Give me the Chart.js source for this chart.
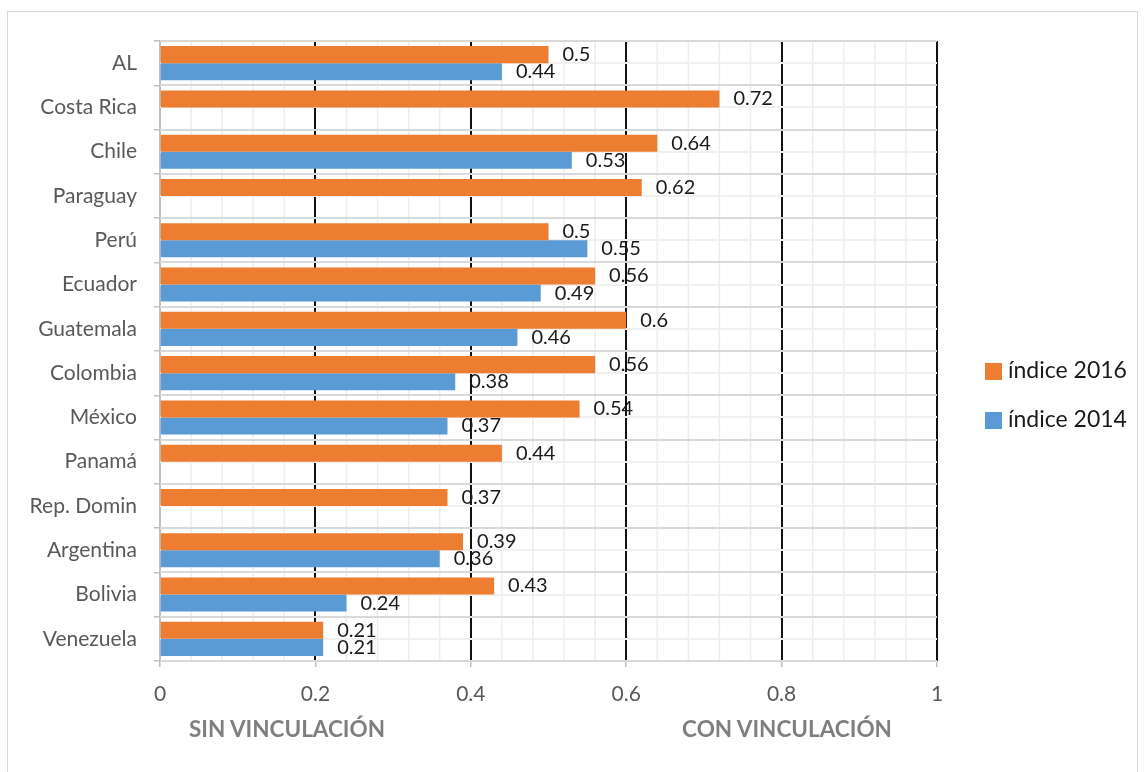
<!DOCTYPE html>
<html>
<head>
<meta charset="utf-8">
<script src="https://cdn.jsdelivr.net/npm/chart.js@4"></script>
<style>
  html, body { margin: 0; padding: 0; background: #fff; overflow: hidden; }
  #wrap { position: relative; width: 1146px; height: 772px; }
  #frame { position: absolute; left: 7px; top: 11px; width: 1131px; height: 800px; border: 1px solid #d9d9d9; box-sizing: border-box; }
  #chart { position: absolute; left: 0; top: 0; }
  .note { position: absolute; top: 715px; font: bold 22.5px Lato, sans-serif; color: #7f7f7f; transform: translateX(-50%); white-space: nowrap; }
</style>
</head>
<body>
<div id="wrap">
  <div id="frame"></div>
  <canvas id="chart" width="1146" height="772"></canvas>
  <div class="note" style="left:287px">SIN VINCULACIÓN</div>
  <div class="note" style="left:787px">CON VINCULACIÓN</div>
</div>
<script>
// Data
const countries = ["AL", "Costa Rica", "Chile", "Paraguay", "Perú", "Ecuador", "Guatemala",
  "Colombia", "México", "Panamá", "Rep. Domin", "Argentina", "Bolivia", "Venezuela"];
const index2016 = [0.5, 0.72, 0.64, 0.62, 0.5, 0.56, 0.6, 0.56, 0.54, 0.44, 0.37, 0.39, 0.43, 0.21];
const index2014 = [0.44, null, 0.53, null, 0.55, 0.49, 0.46, 0.38, 0.37, null, null, 0.36, 0.24, 0.21];
const seriesNames = ["índice 2016", "índice 2014"];
const xTicks = ["0", "0.2", "0.4", "0.6", "0.8", "1"];

const FONT = 'Lato, sans-serif';

// grid drawn by hand: light minor lines, black major lines, horizontals on top
const gridPlugin = {
  id: "excelGrid",
  beforeDatasetsDraw(chart) {
    const ctx = chart.ctx, x = chart.scales.x, y = chart.scales.y, a = chart.chartArea;
    ctx.save();
    ctx.lineWidth = 1.5;
    ctx.strokeStyle = "#ededed";
    for (let i = 1; i <= 25; i++) {
      if (i % 5 == 0) continue;
      const px = x.getPixelForValue(i * 0.04);
      ctx.beginPath(); ctx.moveTo(px, a.top); ctx.lineTo(px, a.bottom); ctx.stroke();
    }
    ctx.lineWidth = 2;
    ctx.strokeStyle = "#111";
    for (let i = 1; i <= 5; i++) {
      const px = Math.round(x.getPixelForValue(i * 0.2));
      ctx.beginPath(); ctx.moveTo(px, a.top); ctx.lineTo(px, a.bottom); ctx.stroke();
    }
    ctx.lineWidth = 2;
    ctx.strokeStyle = "#f0f0f0";
    countries.forEach((c, i) => {
      const py = Math.round(y.getPixelForValue(i));
      ctx.beginPath(); ctx.moveTo(a.left, py); ctx.lineTo(a.right, py); ctx.stroke();
    });
    ctx.strokeStyle = "#d9d9d9";
    for (let i = 0; i <= countries.length; i++) {
      let py;
      if (i == 0) py = a.top;
      else if (i == countries.length) py = a.bottom;
      else py = (y.getPixelForValue(i - 1) + y.getPixelForValue(i)) / 2;
      py = Math.round(py);
      ctx.beginPath(); ctx.moveTo(a.left, py); ctx.lineTo(a.right, py); ctx.stroke();
    }
    ctx.restore();
  }
};

const labelPlugin = {
  id: "valueLabels",
  afterDatasetsDraw(chart) {
    const ctx = chart.ctx;
    ctx.save();
    ctx.font = "20px " + FONT;
    ctx.fillStyle = "#1a1a1a";
    ctx.textAlign = "left";
    ctx.textBaseline = "middle";
    chart.data.datasets.forEach((ds, di) => {
      chart.getDatasetMeta(di).data.forEach((bar, i) => {
        if (ds.data[i] == null) return;
        ctx.fillText(String(ds.data[i]), bar.x + 14, bar.y);
      });
    });
    ctx.restore();
  }
};

const legendPlugin = {
  id: "sideLegend",
  afterDraw(chart) {
    const ctx = chart.ctx, a = chart.chartArea;
    ctx.save();
    ctx.font = "23px " + FONT;
    ctx.textBaseline = "middle";
    chart.data.datasets.forEach((ds, i) => {
      const cy = 371 + i * 49;
      const bx = a.right + 48;
      ctx.fillStyle = ds.backgroundColor;
      ctx.fillRect(bx, cy - 8, 17, 17);
      ctx.fillStyle = "#1a1a1a";
      ctx.fillText(ds.label, bx + 23, cy);
    });
    ctx.restore();
  }
};

new Chart(document.getElementById("chart"), {
  type: "bar",
  data: {
    labels: countries,
    datasets: [
      { label: seriesNames[0], data: index2016, backgroundColor: "#ED7D31",
        categoryPercentage: 0.77, barPercentage: 1 },
      { label: seriesNames[1], data: index2014, backgroundColor: "#5B9BD5",
        categoryPercentage: 0.77, barPercentage: 1 },
    ],
  },
  options: {
    indexAxis: "y",
    responsive: false,
    animation: false,
    layout: { padding: { top: 41, right: 209, left: 0, bottom: 0 } },
    plugins: { legend: { display: false }, tooltip: { enabled: false } },
    scales: {
      x: {
        min: 0, max: 1,
        ticks: { stepSize: 0.2, color: "#595959", font: { family: FONT, size: 21 }, padding: 15,
          callback: (v, i) => xTicks[i] },
        grid: { drawOnChartArea: false, drawTicks: true, tickLength: 6, color: "#bfbfbf", lineWidth: 1.5 },
        border: { color: "#bfbfbf", width: 2 },
        afterFit(s) { s.height = 111; },
      },
      y: {
        ticks: { color: "#595959", font: { family: FONT, size: 21 }, padding: 17 },
        grid: { drawOnChartArea: false, drawTicks: true, tickLength: 6, color: "#bfbfbf", lineWidth: 1.5, offset: true },
        border: { color: "#bfbfbf", width: 2 },
        afterFit(s) { s.width = 160; },
      },
    },
  },
  plugins: [gridPlugin, labelPlugin, legendPlugin],
});
</script>
</body>
</html>
